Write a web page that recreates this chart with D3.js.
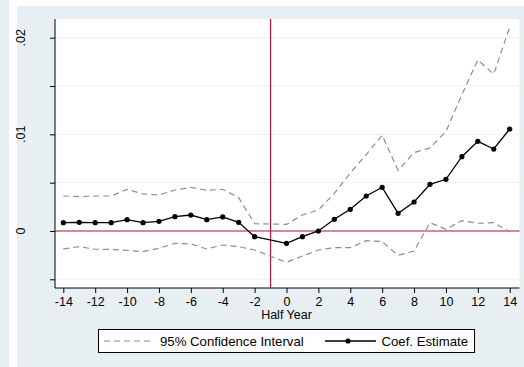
<!DOCTYPE html>
<html>
<head>
<meta charset="utf-8">
<script src="https://cdn.jsdelivr.net/npm/d3@7"></script>
<style>
  body { margin: 0; background: #fff; }
  svg { display: block; font-family: "Liberation Sans", Arial, sans-serif; }
</style>
</head>
<body>
<svg id="chart"></svg>
<script>
(() => {

  // half-year relative to event (-1 is the omitted reference period)
  const halfYear = [-14, -13, -12, -11, -10, -9, -8, -7, -6, -5, -4, -3, -2,
    0, 1, 2, 3, 4, 5, 6, 7, 8, 9, 10, 11, 12, 13, 14];

  const coef = [0.00086, 0.0009, 0.00086, 0.00086, 0.00117, 0.00086, 0.001,
    0.00148, 0.00165, 0.00117, 0.00145, 0.0009, -0.00059,
    -0.00128, -0.00059, 0.0, 0.00121, 0.00224, 0.00362, 0.00452, 0.00183,
    0.003, 0.00483, 0.00535, 0.00769, 0.00928, 0.00848, 0.01055];

  const ciUpper = [0.00362, 0.00355, 0.00362, 0.00362, 0.00431, 0.00383, 0.00372,
    0.00424, 0.00452, 0.00421, 0.00431, 0.00345, 0.00075,
    0.00069, 0.00166, 0.00217, 0.0039, 0.006, 0.0079, 0.0099, 0.00627,
    0.0081, 0.0086, 0.0103, 0.0141, 0.0177, 0.01624, 0.0211];

  const ciLower = [-0.00186, -0.00162, -0.00189, -0.0019, -0.002, -0.00214, -0.00179,
    -0.00128, -0.00134, -0.00186, -0.00145, -0.00162, -0.00197,
    -0.00324, -0.00259, -0.00197, -0.00172, -0.00172, -0.001, -0.0011, -0.00252,
    -0.00207, 0.00086, 0.00017, 0.00107, 0.0008, 0.00086, -0.00007];

  const xTicks = [-14, -12, -10, -8, -6, -4, -2, 0, 2, 4, 6, 8, 10, 12, 14];
  const yTicks = [-0.005, 0, 0.005, 0.01, 0.015, 0.02];
  const yLabels = [0, 0.01, 0.02];
  const eventLine = -1;

  const width = 524;
  const height = 367;
  const bg = '#e8eff2';
  const red = '#b3183f';
  const grey = '#8e8e8e';

  const svg = d3.select('#chart')
    .attr('width', width)
    .attr('height', height);

  // graph region
  svg.append('rect').attr('width', width).attr('height', height).attr('fill', bg);
  svg.append('rect').attr('x', 9).attr('y', 0).attr('width', 8).attr('height', height).attr('fill', '#fff');
  svg.append('rect').attr('x', 9).attr('y', 0).attr('width', width - 9).attr('height', 6).attr('fill', '#fff');

  const plot = { left: 55, right: 519.5, top: 19, bottom: 288 };
  svg.append('rect')
    .attr('x', plot.left).attr('y', plot.top)
    .attr('width', plot.right - plot.left).attr('height', plot.bottom - plot.top)
    .attr('fill', '#fff');

  const x = d3.scaleLinear().domain([-14, 14]).range([63.3, 509.7]);
  const y = d3.scaleLinear().domain([-0.005, 0.02]).range([279.3, 37.7]);

  // gridlines
  svg.append('g')
    .selectAll('line')
    .data(yTicks)
    .enter()
    .append('line')
    .attr('x1', plot.left).attr('x2', plot.right)
    .attr('y1', d => y(d)).attr('y2', d => y(d))
    .attr('stroke', '#eaf1f3')
    .attr('stroke-width', 1);

  // y axis
  const yAxis = svg.append('g')
    .attr('transform', `translate(${plot.left},0)`)
    .call(d3.axisLeft(y).tickValues(yTicks).tickSize(5).tickFormat(''));
  yAxis.select('.domain').attr('d', `M0,${plot.top}V${plot.bottom}`).attr('stroke', '#000');
  yAxis.selectAll('.tick line').attr('stroke', '#000');

  svg.append('g')
    .selectAll('text')
    .data(yLabels)
    .enter()
    .append('text')
    .attr('transform', d => `translate(24.5,${y(d)}) rotate(-90)`)
    .attr('text-anchor', 'middle')
    .attr('font-size', 12.5)
    .attr('fill', '#000')
    .text(d => d === 0 ? '0' : d3.format('.2f')(d).replace(/^0/, ''));

  // x axis
  const xAxis = svg.append('g')
    .attr('transform', `translate(0,${plot.bottom})`)
    .call(d3.axisBottom(x).tickValues(xTicks).tickSize(5).tickPadding(4).tickFormat(d3.format('d')));
  xAxis.select('.domain').attr('d', `M${plot.left},0H${plot.right}`).attr('stroke', '#000');
  xAxis.selectAll('.tick line').attr('stroke', '#000');
  xAxis.selectAll('.tick text')
    .attr('font-size', 12.5)
    .attr('font-family', '"Liberation Sans", Arial, sans-serif')
    .attr('fill', '#000')
    .text(d => d < 0 ? '-' + Math.abs(d) : d);

  svg.append('text')
    .attr('x', x(0)).attr('y', 318.5)
    .attr('text-anchor', 'middle')
    .attr('font-size', 12.5)
    .text('Half Year');

  // reference lines
  svg.append('line')
    .attr('x1', plot.left).attr('x2', plot.right)
    .attr('y1', y(0)).attr('y2', y(0))
    .attr('stroke', red).attr('stroke-width', 1.2);
  svg.append('line')
    .attr('x1', x(eventLine)).attr('x2', x(eventLine))
    .attr('y1', plot.top).attr('y2', plot.bottom)
    .attr('stroke', red).attr('stroke-width', 1.2);

  const line = (vals) => d3.line()
    .x((d, i) => x(halfYear[i]))
    .y(d => y(d))(vals);

  svg.append('path').attr('d', line(ciUpper))
    .attr('fill', 'none').attr('stroke', grey).attr('stroke-width', 1.2)
    .attr('stroke-dasharray', '6,4');
  svg.append('path').attr('d', line(ciLower))
    .attr('fill', 'none').attr('stroke', grey).attr('stroke-width', 1.2)
    .attr('stroke-dasharray', '6,4');

  svg.append('path').attr('d', line(coef))
    .attr('fill', 'none').attr('stroke', '#000').attr('stroke-width', 1.3);
  svg.append('g')
    .selectAll('circle')
    .data(coef)
    .enter()
    .append('circle')
    .attr('cx', (d, i) => x(halfYear[i]))
    .attr('cy', d => y(d))
    .attr('r', 2.6)
    .attr('fill', '#000');

  // legend
  const legend = svg.append('g');
  legend.append('rect')
    .attr('x', 98.5).attr('y', 329.5).attr('width', 376).attr('height', 23)
    .attr('fill', '#fff').attr('stroke', '#000').attr('stroke-width', 1);
  legend.append('line')
    .attr('x1', 104).attr('x2', 153).attr('y1', 341).attr('y2', 341)
    .attr('stroke', grey).attr('stroke-width', 1.2).attr('stroke-dasharray', '6,4');
  legend.append('text')
    .attr('x', 160).attr('y', 345.5).attr('font-size', 13.2)
    .text('95% Confidence Interval');
  legend.append('line')
    .attr('x1', 325).attr('x2', 376).attr('y1', 341).attr('y2', 341)
    .attr('stroke', '#000').attr('stroke-width', 1.3);
  legend.append('circle')
    .attr('cx', 348).attr('cy', 341).attr('r', 2.6).attr('fill', '#000');
  legend.append('text')
    .attr('x', 381.5).attr('y', 345.5).attr('font-size', 13.2)
    .text('Coef. Estimate');

})();
</script>
</body>
</html>
